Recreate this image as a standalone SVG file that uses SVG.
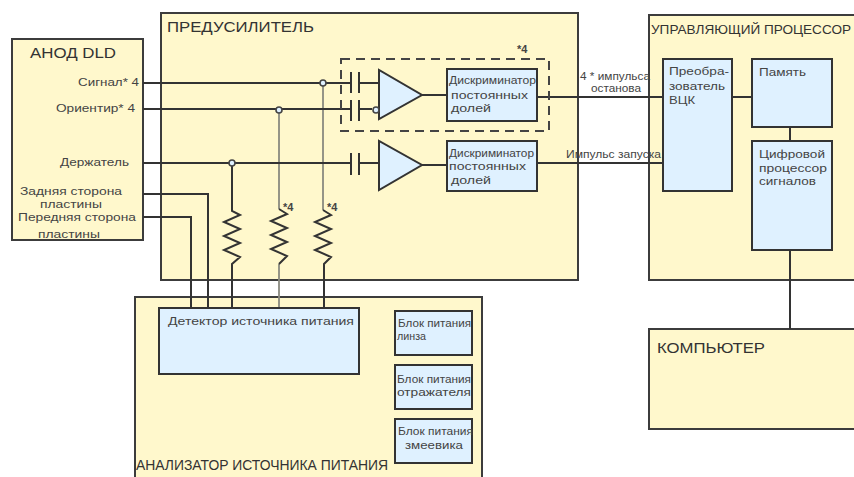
<svg xmlns="http://www.w3.org/2000/svg" width="854" height="477" viewBox="0 0 854 477">
<style>
.y{fill:#fff8cc;stroke:#3c3c3c;stroke-width:2}
.b{fill:#dff1ff;stroke:#333;stroke-width:2}
.w{fill:none;stroke:#333;stroke-width:2}
.g{fill:none;stroke:#8a8a80;stroke-width:1.8}
.d{fill:#dff1ff;stroke:#444;stroke-width:1.6}
text{font-family:"Liberation Sans",Arial,sans-serif;font-size:11px;fill:#444}
.h{font-size:14.5px;fill:#333}
.t{font-size:13px}
.m{text-anchor:middle}
.e{text-anchor:end}
</style>
<rect width="854" height="477" fill="#fff"/>
<g id="anode"><rect class="y" x="12" y="39" width="131" height="201"/><text class="h" x="30" y="58" textLength="86" lengthAdjust="spacingAndGlyphs">АНОД DLD</text></g>
<g id="preamp"><rect class="y" x="161" y="13" width="417" height="267"/><text class="h" x="167" y="32" textLength="147" lengthAdjust="spacingAndGlyphs">ПРЕДУСИЛИТЕЛЬ</text></g>
<g id="controller"><rect class="y" x="649" y="15" width="210" height="265"/><text class="h t" x="651" y="34" textLength="200" lengthAdjust="spacingAndGlyphs">УПРАВЛЯЮЩИЙ ПРОЦЕССОР</text></g>
<g id="analyzer"><rect class="y" x="135" y="297" width="347" height="190"/></g>
<g id="computer"><rect class="y" x="649" y="329" width="210" height="100"/><text class="h" x="657" y="353" textLength="108" lengthAdjust="spacingAndGlyphs">КОМПЬЮТЕР</text></g>
<g id="connectors">
<path class="g" d="M323 83V210M279 110V209M279 264V308"/>
<path class="w" d="M143 83H351M359 83H379M143 109H351M359 109H372M143 163H351M359 163H379M351 72V93M359 72V93M351 100V121M359 100V121M351 153V175M359 153V175"/>
<path class="w" d="M232 163V211L240 215L224 222L240 229L224 236L240 243L224 250L240 257L232 264V308M279 209L287 214L271 221L287 228L271 235L287 242L271 249L287 256L279 264M323 210L331 215L315 222L331 229L315 236L331 243L315 250L331 257L324 264V308"/>
<path class="w" d="M143 194H208V308M143 217H191V308M422 95H447M422 165H447M537 97H663M537 163H663M732 97H752M790 127V141M790 250V329"/>
<rect x="341" y="59" width="208" height="72" fill="none" stroke="#444" stroke-width="2" stroke-dasharray="9 6"/>
<circle class="d" cx="323" cy="83" r="3"/><circle class="d" cx="279" cy="110" r="3"/><circle class="d" cx="232" cy="163" r="3"/>
</g>
<g id="amp1"><polygon class="b" points="379,70 379,119 422,95"/><circle class="d" cx="376" cy="110" r="3"/></g>
<g id="amp2"><polygon class="b" points="379,141 379,190 422,165"/></g>
<g id="disc1"><rect class="b" x="447" y="69" width="90" height="52"/><text x="449" y="84" textLength="87" lengthAdjust="spacingAndGlyphs">Дискриминатор</text><text x="451" y="99" textLength="77" lengthAdjust="spacingAndGlyphs">постоянных</text><text x="451" y="112" textLength="40" lengthAdjust="spacingAndGlyphs">долей</text></g>
<g id="disc2"><rect class="b" x="447" y="141" width="90" height="50"/><text x="449" y="157" textLength="85" lengthAdjust="spacingAndGlyphs">Дискриминатор</text><text x="449" y="170" textLength="77" lengthAdjust="spacingAndGlyphs">постоянных</text><text x="451" y="184" textLength="40" lengthAdjust="spacingAndGlyphs">долей</text></g>
<g id="conv"><rect class="b" x="663" y="59" width="69" height="132"/><text x="669" y="75" textLength="60" lengthAdjust="spacingAndGlyphs">Преобра-</text><text x="669" y="90" textLength="56" lengthAdjust="spacingAndGlyphs">зователь</text><text x="669" y="104" textLength="26" lengthAdjust="spacingAndGlyphs">ВЦК</text></g>
<g id="memory"><rect class="b" x="752" y="59" width="80" height="68"/><text x="759" y="76" textLength="47" lengthAdjust="spacingAndGlyphs">Память</text></g>
<g id="dsp"><rect class="b" x="752" y="141" width="80" height="109"/><text x="759" y="158" textLength="66" lengthAdjust="spacingAndGlyphs">Цифровой</text><text x="759" y="172" textLength="68" lengthAdjust="spacingAndGlyphs">процессор</text><text x="759" y="185" textLength="57" lengthAdjust="spacingAndGlyphs">сигналов</text></g>
<g id="detector"><rect class="b" x="159" y="308" width="200" height="66"/><text x="168" y="325" textLength="186" lengthAdjust="spacingAndGlyphs">Детектор источника питания</text></g>
<g id="lens"><rect class="b" x="395" y="311" width="77" height="44"/><text x="398" y="327" textLength="73" lengthAdjust="spacingAndGlyphs">Блок питания</text><text x="397" y="340" textLength="29" lengthAdjust="spacingAndGlyphs">линза</text></g>
<g id="reflector"><rect class="b" x="395" y="365" width="77" height="44"/><text x="397" y="383" textLength="74" lengthAdjust="spacingAndGlyphs">Блок питания</text><text x="397" y="396" textLength="74" lengthAdjust="spacingAndGlyphs">отражателя</text></g>
<g id="deflector"><rect class="b" x="395" y="419" width="77" height="44"/><text x="398" y="435" textLength="75" lengthAdjust="spacingAndGlyphs">Блок питания</text><text x="405" y="449" textLength="58" lengthAdjust="spacingAndGlyphs">змеевика</text></g>
<g id="labels">
<text x="78" y="86" textLength="61" lengthAdjust="spacingAndGlyphs">Сигнал* 4</text>
<text x="56" y="112" textLength="79" lengthAdjust="spacingAndGlyphs">Ориентир* 4</text>
<text x="60" y="166" textLength="69" lengthAdjust="spacingAndGlyphs">Держатель</text>
<text x="20" y="195" textLength="102" lengthAdjust="spacingAndGlyphs">Задняя сторона</text><text x="40" y="208" textLength="62" lengthAdjust="spacingAndGlyphs">пластины</text>
<text x="18" y="221" textLength="118" lengthAdjust="spacingAndGlyphs">Передняя сторона</text><text x="38" y="238" textLength="62" lengthAdjust="spacingAndGlyphs">пластины</text>
<text x="517" y="53" font-weight="bold">*4</text>
<text x="283" y="211" font-weight="bold">*4</text><text x="327" y="211" font-weight="bold">*4</text>
<text x="580" y="80" textLength="70" lengthAdjust="spacingAndGlyphs">4 * импульса</text><text x="591" y="92" textLength="50" lengthAdjust="spacingAndGlyphs">останова</text>
<text x="566" y="158" textLength="95" lengthAdjust="spacingAndGlyphs">Импульс запуска</text>
<text class="h" x="136" y="470" textLength="252" lengthAdjust="spacingAndGlyphs">АНАЛИЗАТОР ИСТОЧНИКА ПИТАНИЯ</text>
</g>
</svg>
